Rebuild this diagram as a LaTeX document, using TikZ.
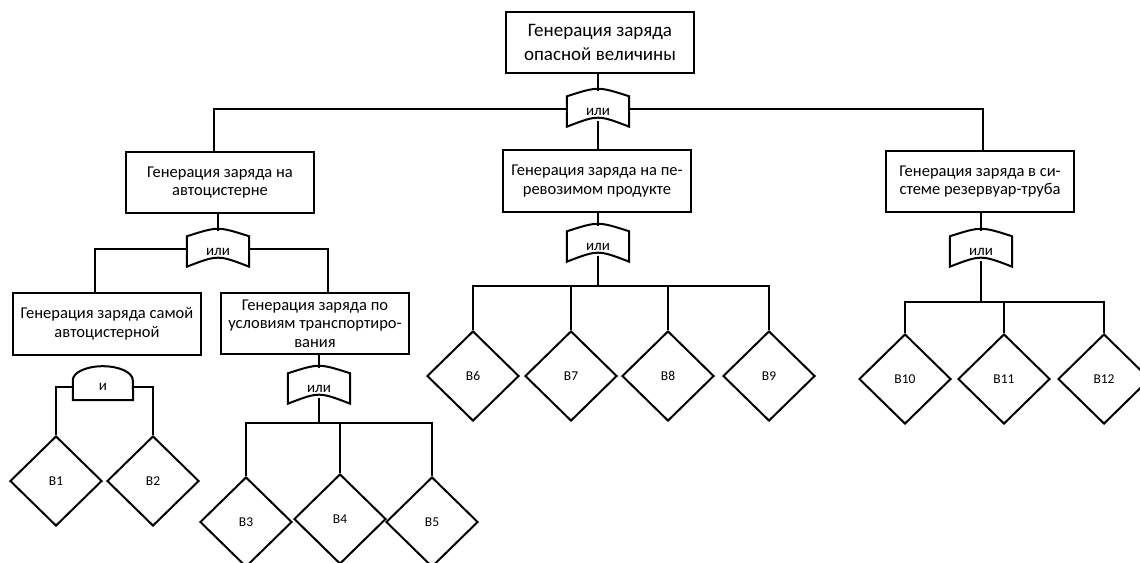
\documentclass[tikz,border=0pt]{standalone}
\usepackage{fontspec}
\setmainfont{Carlito}
\usetikzlibrary{shapes.geometric,calc}

\begin{document}
\begin{tikzpicture}[x=1pt,y=-1pt,
  wire/.style={line width=2pt},
  box/.style={rectangle,draw,line width=2pt,minimum width=188pt,minimum height=61pt,
    inner sep=2pt,align=center,font=\fontsize{16.5}{18.5}\selectfont},
  topbox/.style={box,font=\fontsize{19}{24}\selectfont},
  event/.style={diamond,draw,line width=2pt,minimum width=92pt,minimum height=90pt,
    inner sep=0pt,font=\fontsize{13.5}{15}\selectfont},
  gate/.style={minimum width=62pt,minimum height=35pt,inner sep=0pt,
    text height=13pt,text depth=0pt,font=\fontsize{15}{17}\selectfont},
  andgate/.style={gate,minimum width=60pt,minimum height=34pt,text height=15pt}]

\useasboundingbox (0,0) rectangle (1140,562);

% top event
\node[topbox] (top) at (600,42.5) {Генерация заряда\\опасной величины};
\node[gate] (gTop) at (598,109) {или};

% second level
\node[box] (A) at (220,182.5) {Генерация заряда на\\автоцистерне};
\node[box,minimum height=62pt] (M) at (597,181) {Генерация заряда на пе-\\ревозимом продукте};
\node[box] (R) at (980,181.5) {Генерация заряда в си-\\стеме резервуар-труба};
\node[gate] (gA) at (218,249) {или};
\node[gate] (gM) at (598,244) {или};
\node[gate] (gR) at (981,249) {или};

% third level
\node[box,minimum height=62pt] (S) at (107,324) {Генерация заряда самой\\автоцистерной};
\node[box] (T) at (315,323.5) {Генерация заряда по\\условиям транспортиро-\\вания};
\node[andgate] (gS) at (103,383) {и};
\node[gate] (gT) at (319,386) {или};

% gate outlines
\foreach \g in {gTop,gA,gM,gR,gT}
  \draw[wire] (\g.south west) .. controls ($(\g.south)+(0,-12)$) .. (\g.south east)
    -- ($(\g.north east)+(0,5)$) .. controls ($(\g.north)+(0,-5)$) .. ($(\g.north west)+(0,5)$)
    -- cycle;
\draw[wire] (gS.south west) -- ($(gS.south west)+(0,-20)$)
  arc[start angle=180,end angle=0,x radius=30pt,y radius=14pt] -- (gS.south east) -- cycle;

% basic events
\node[event] (B1) at (56,481) {В1};
\node[event] (B2) at (153,481) {В2};
\node[event] (B3) at (246,522) {В3};
\node[event] (B4) at (340,519) {В4};
\node[event] (B5) at (432,522) {В5};
\node[event] (B6) at (473,376) {В6};
\node[event] (B7) at (571,376) {В7};
\node[event] (B8) at (668,376) {В8};
\node[event] (B9) at (769,376) {В9};
\node[event] (B10) at (905,379) {В10};
\node[event] (B11) at (1004,379) {В11};
\node[event] (B12) at (1104,379) {В12};

\coordinate (busT) at (319,423);
\coordinate (busM) at (598,286);
\coordinate (busR) at (981,302);

% connections
\draw[wire] (gTop.north) -- (gTop.north |- top.south);
\draw[wire] (gTop.west) -| ($(A.north)+(-6,0)$);
\draw[wire] (gTop.east) -| ($(R.north)+(3,0)$);
\draw[wire] ($(gTop.south)+(0,-6)$) -- (gTop.south |- M.north);

\draw[wire] (gA.north) -- (gA.north |- A.south);
\draw[wire] (gA.west) -| ($(S.north)+(-12,0)$);
\draw[wire] (gA.east) -| ($(T.north)+(13,0)$);
\draw[wire] (gM.north) -- (gM.north |- M.south);
\draw[wire] (gR.north) -- (gR.north |- R.south);
\draw[wire] (gT.north) -- (gT.north |- T.south);

\draw[wire] ($(gS.west)+(0,4)$) -| (B1.north);
\draw[wire] ($(gS.east)+(0,4)$) -| (B2.north);

\draw[wire] ($(gT.south)+(0,-6)$) -- (busT);
\draw[wire] (B3.north) |- (busT) -| (B5.north);
\draw[wire] (B4.north) -- (B4.north |- busT);

\draw[wire] ($(gM.south)+(0,-6)$) -- (busM);
\draw[wire] (B6.north) |- (busM) -| (B9.north);
\draw[wire] (B7.north) -- (B7.north |- busM);
\draw[wire] (B8.north) -- (B8.north |- busM);

\draw[wire] ($(gR.south)+(0,-6)$) -- (busR);
\draw[wire] (B10.north) |- (busR) -| (B12.north);
\draw[wire] (B11.north) -- (B11.north |- busR);

\end{tikzpicture}
\end{document}
